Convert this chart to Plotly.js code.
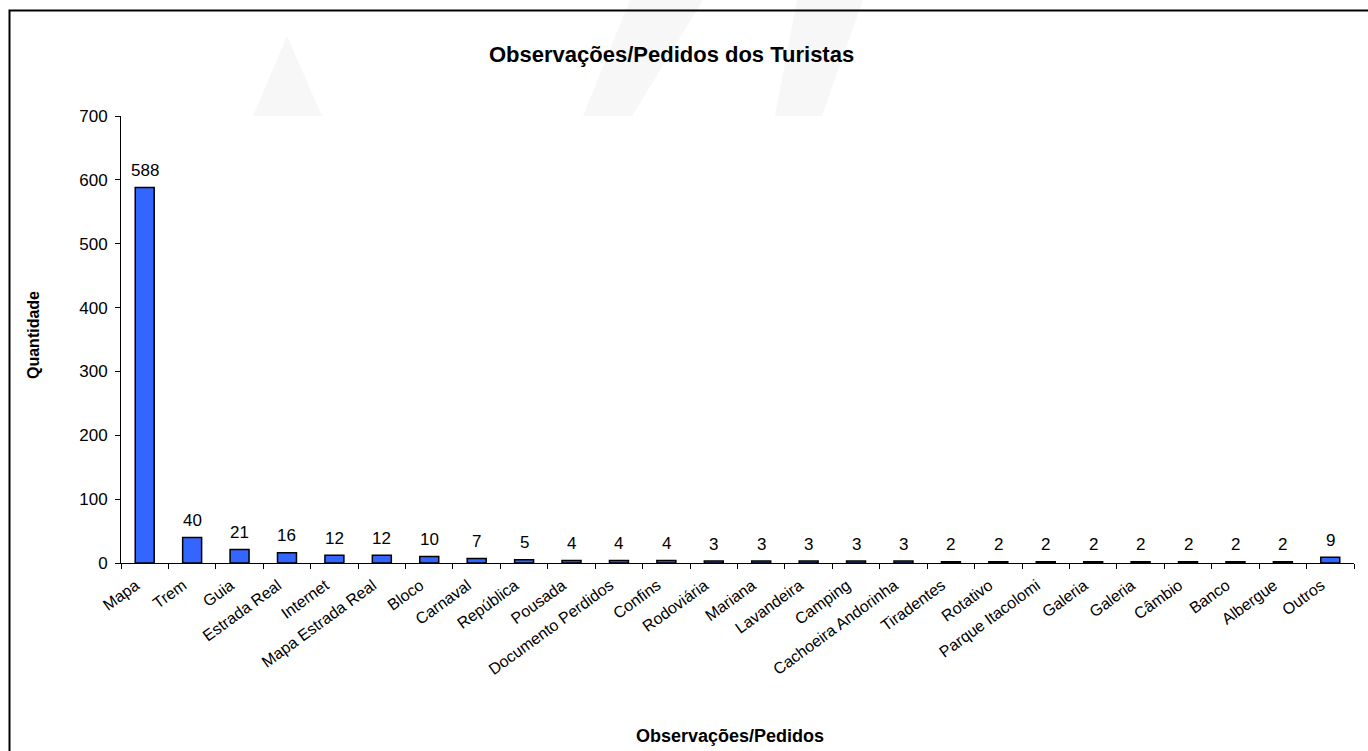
<!DOCTYPE html>
<html>
<head>
<meta charset="utf-8">
<script src="https://cdn.plot.ly/plotly-3.0.1.min.js"></script>
<style>
html,body{margin:0;padding:0;background:#fff;}
#chart{width:1368px;height:751px;}
</style>
</head>
<body>
<div id="chart"></div>
<script>
const categories = ["Mapa","Trem","Guia","Estrada Real","Internet","Mapa Estrada Real","Bloco","Carnaval","República","Pousada","Documento Perdidos","Confins","Rodoviária","Mariana","Lavandeira","Camping","Cachoeira Andorinha","Tiradentes","Rotativo","Parque Itacolomi","Galeria","Galeria","Câmbio","Banco","Albergue","Outros"];
const values = [588,40,21,16,12,12,10,7,5,4,4,4,3,3,3,3,3,2,2,2,2,2,2,2,2,9];
const yTicks = [0,100,200,300,400,500,600,700];

// unique keys for the category axis (two "Galeria" entries)
const seen = {};
const keys = categories.map(c => { seen[c] = (seen[c] || 0) + 1; return seen[c] > 1 ? c + "\u200B".repeat(seen[c]-1) : c; });

const L = 121, R = 1354, T = 116, B = 563, W = 1368, H = 751;
const px = x => (x - L) / (R - L);
const py = y => (B - y) / (B - T);
const font = "Liberation Sans, Arial, sans-serif";

const trace = {
  type: "bar",
  x: keys,
  y: values,
  marker: {color: "#3366FF", line: {color: "#000", width: 1.5}},
  hoverinfo: "x+y"
};

const valueLabels = keys.map((k, i) => ({
  x: k, y: values[i], xref: "x", yref: "y",
  text: String(values[i]), showarrow: false,
  xanchor: "center", yanchor: "middle", yshift: 17,
  font: {family: font, size: 17, color: "#000"}
}));

const wm = "#f7f7f7";
const layout = {
  width: W, height: H,
  margin: {l: L, r: W - R, t: T, b: H - B, pad: 0},
  paper_bgcolor: "#fff",
  plot_bgcolor: "#fff",
  showlegend: false,
  bargap: 0.6,
  font: {family: font, size: 16, color: "#000"},
  xaxis: {
    type: "category",
    tickvals: keys, ticktext: categories,
    tickson: "boundaries",
    ticks: "outside", ticklen: 5, tickwidth: 1, tickcolor: "#000",
    showline: true, linecolor: "#000", linewidth: 1,
    showgrid: false, zeroline: false,
    tickangle: -36,
    ticklabelshift: -9,
    ticklabelstandoff: 6,
    tickfont: {family: font, size: 16, color: "#000"},
    automargin: false
  },
  yaxis: {
    range: [0, 700],
    tickvals: yTicks,
    ticks: "outside", ticklen: 5, tickwidth: 1, tickcolor: "#000",
    showline: true, linecolor: "#000", linewidth: 1,
    showgrid: false, zeroline: false,
    ticklabelstandoff: 4,
    tickfont: {family: font, size: 17, color: "#000"},
    automargin: false
  },
  annotations: [
    {text: "<b>Observações/Pedidos dos Turistas</b>", xref: "paper", yref: "paper", x: px(671), y: py(55), xanchor: "center", yanchor: "middle", showarrow: false, font: {family: font, size: 22, color: "#000"}},
    {text: "<b>Quantidade</b>", xref: "paper", yref: "paper", x: px(33), y: py(335), xanchor: "center", yanchor: "middle", textangle: -90, showarrow: false, font: {family: font, size: 16, color: "#000"}},
    {text: "<b>Observações/Pedidos</b>", xref: "paper", yref: "paper", x: px(730), y: py(736), xanchor: "center", yanchor: "middle", showarrow: false, font: {family: font, size: 18, color: "#000"}}
  ].concat(valueLabels),
  shapes: [
    {type: "path", xref: "paper", yref: "paper", layer: "below", line: {width: 0}, fillcolor: wm,
     path: `M ${px(287)} ${py(36)} L ${px(322)} ${py(116)} L ${px(253)} ${py(116)} Z`},
    {type: "path", xref: "paper", yref: "paper", layer: "below", line: {width: 0}, fillcolor: wm,
     path: `M ${px(630)} ${py(0)} L ${px(703)} ${py(0)} L ${px(632)} ${py(116)} L ${px(583)} ${py(116)} Z`},
    {type: "path", xref: "paper", yref: "paper", layer: "below", line: {width: 0}, fillcolor: wm,
     path: `M ${px(797)} ${py(0)} L ${px(863)} ${py(0)} L ${px(822)} ${py(116)} L ${px(775)} ${py(116)} Z`},
    {type: "rect", xref: "paper", yref: "paper", layer: "above", fillcolor: "rgba(0,0,0,0)",
     line: {color: "#000", width: 2},
     x0: px(9.5), x1: px(1375), y0: py(760), y1: py(10.5)}
  ]
};

Plotly.newPlot("chart", [trace], layout, {displayModeBar: false, staticPlot: true});
</script>
</body>
</html>
